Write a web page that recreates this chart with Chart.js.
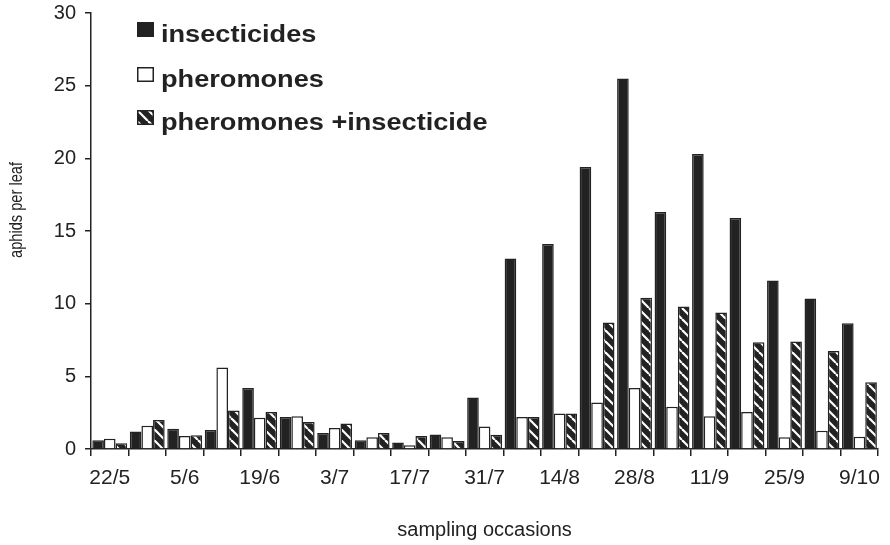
<!DOCTYPE html>
<html>
<head>
<meta charset="utf-8">
<script src="https://cdn.jsdelivr.net/npm/chart.js@4.4.0/dist/chart.umd.min.js"></script>
<style>
  html, body { margin: 0; padding: 0; background: #fff; }
</style>
</head>
<body>
<canvas id="aphids" width="890" height="545"></canvas>
<script>
// weekly sampling dates, only every second one gets a label
const dates = ['22/5','29/5','5/6','12/6','19/6','26/6','3/7','10/7','17/7','24/7','31/7',
               '7/8','14/8','21/8','28/8','4/9','11/9','18/9','25/9','2/10','9/10'];
const shownDates = ['22/5','5/6','19/6','3/7','17/7','31/7','14/8','28/8','11/9','25/9','9/10'];

const insecticides = [0.6,1.2,1.4,1.3,4.2,2.2,1.1,0.6,0.45,1.0,3.55,13.1,14.1,19.4,25.5,16.3,20.3,15.9,11.6,10.35,8.65];
const pheromones   = [0.7,1.6,0.9,5.6,2.15,2.25,1.45,0.8,0.25,0.8,1.55,2.2,2.45,3.2,4.2,2.9,2.25,2.55,0.8,1.25,0.85];
const pheroInsect  = [0.4,2.0,0.95,2.65,2.55,1.85,1.75,1.1,0.9,0.55,0.98,2.2,2.45,8.7,10.4,9.8,9.4,7.35,7.4,6.75,4.6];

const yTicks = [0, 5, 10, 15, 20, 25, 30];
const yTitle = 'aphids per leaf';

const ink = '#222';
const family = '"Liberation Sans", Arial, sans-serif';

// dark fill with white "\" stripes
function stripes() {
  const s = 11;
  const c = document.createElement('canvas');
  c.width = s; c.height = s;
  const g = c.getContext('2d');
  g.fillStyle = ink;
  g.fillRect(0, 0, s, s);
  g.strokeStyle = '#fff';
  g.lineWidth = 2.2;
  for (const k of [-s, 0, s]) {
    g.beginPath();
    g.moveTo(k, 0);
    g.lineTo(k + s, s);
    g.stroke();
  }
  return g.createPattern(c, 'repeat');
}
const hatch = stripes();

// legend stacked in the top-left of the plot, plus the condensed y title
const boxLegend = {
  id: 'boxLegend',
  afterDraw(chart) {
    const ctx = chart.ctx;
    const { left, top } = chart.chartArea;
    const x0 = left + 46;
    const rows = [29, 74, 117];
    ctx.save();
    chart.data.datasets.forEach((ds, i) => {
      const base = top + rows[i];
      ctx.save();
      ctx.translate(x0, base - 20);
      ctx.fillStyle = ds.backgroundColor;
      ctx.fillRect(0, 0, 17, 15);
      ctx.lineWidth = 1.5;
      ctx.strokeStyle = ink;
      ctx.strokeRect(0.75, 0.75, 15.5, 13.5);
      ctx.restore();

      ctx.save();
      ctx.translate(x0 + 24, base);
      ctx.scale(1.18, 1);
      ctx.font = 'bold 23px ' + family;
      ctx.textBaseline = 'alphabetic';
      ctx.fillStyle = ink;
      ctx.fillText(ds.label, 0, 0);
      ctx.restore();
    });

    ctx.save();
    ctx.font = '19px ' + family;
    const w = ctx.measureText(yTitle).width;
    ctx.translate(17, top + 197);
    ctx.rotate(-Math.PI / 2);
    ctx.scale(96 / w, 1);
    ctx.textAlign = 'center';
    ctx.textBaseline = 'middle';
    ctx.fillStyle = ink;
    ctx.fillText(yTitle, 0, 0);
    ctx.restore();
    ctx.restore();
  }
};

const bar = { borderColor: ink, borderWidth: 1.5, categoryPercentage: 0.93, barPercentage: 1 };

new Chart(document.getElementById('aphids'), {
  type: 'bar',
  data: {
    labels: dates,
    datasets: [
      { label: 'insecticides', data: insecticides, backgroundColor: ink, ...bar },
      { label: 'pheromones', data: pheromones, backgroundColor: '#fff', ...bar },
      { label: 'pheromones +insecticide', data: pheroInsect, backgroundColor: hatch, ...bar }
    ]
  },
  options: {
    responsive: false,
    animation: false,
    devicePixelRatio: 1,
    layout: { padding: { top: 13, right: 5, bottom: 0, left: 0 } },
    plugins: { legend: { display: false }, tooltip: { enabled: false } },
    scales: {
      x: {
        grid: { drawOnChartArea: false, tickLength: 7, color: ink, lineWidth: 1.5, offset: true },
        border: { color: ink, width: 1.5 },
        ticks: {
          autoSkip: false, maxRotation: 0, padding: 10, color: ink,
          font: { family, size: 21 },
          callback: (v, i) => shownDates.includes(dates[i]) ? dates[i] : ''
        },
        title: {
          display: true, text: 'sampling occasions', color: ink,
          font: { family, size: 20 }, padding: { top: 0, bottom: 3 }
        },
        afterFit: s => { s.height = 96; }
      },
      y: {
        min: 0, max: 30,
        afterBuildTicks: s => { s.ticks = yTicks.map(v => ({ value: v })); },
        grid: { drawOnChartArea: false, tickLength: 6, color: ink, lineWidth: 1.5 },
        border: { color: ink, width: 1.5 },
        ticks: { padding: 9, color: ink, font: { family, size: 20 } },
        afterFit: s => { s.width = 91; s.paddingTop = 0; s.paddingBottom = 0; }
      }
    }
  },
  plugins: [boxLegend]
});
</script>
</body>
</html>
